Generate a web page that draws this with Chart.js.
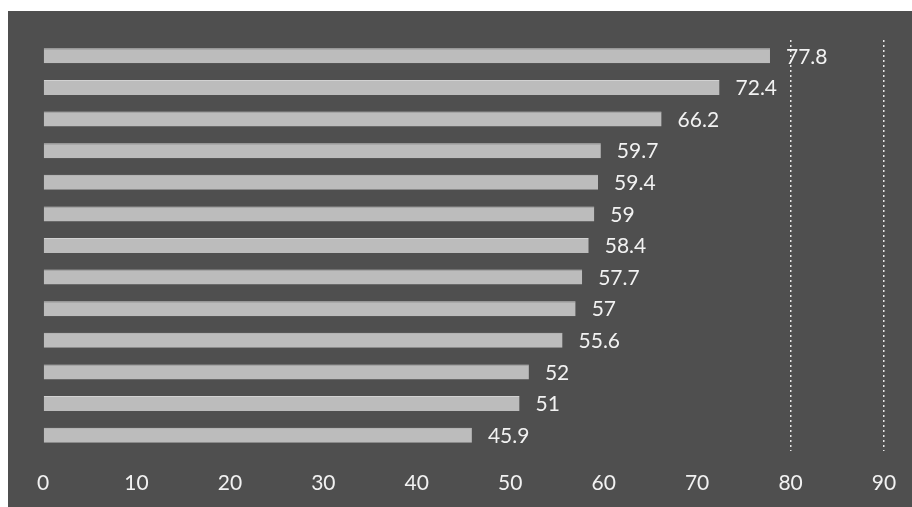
<!DOCTYPE html>
<html lang="en">
<head>
    <meta charset="UTF-8">
    <title>Bar chart</title>
    <script src="https://cdn.jsdelivr.net/npm/chart.js"></script>
    <style>
        body {
            margin: 0;
            background-color: #ffffff;
            overflow: hidden;
        }
        .chart-box {
            position: absolute;
            left: 8px;
            top: 11px;
            width: 904px;
            height: 496px;
            background-color: #4f4f4f;
        }
        canvas {
            display: block;
        }
    </style>
</head>
<body>
    <div class="chart-box">
        <canvas id="barChart" width="904" height="496"></canvas>
    </div>

    <script>
        const categories = ['1', '2', '3', '4', '5', '6', '7', '8', '9', '10', '11', '12', '13'];
        const values = [77.8, 72.4, 66.2, 59.7, 59.4, 59, 58.4, 57.7, 57, 55.6, 52, 51, 45.9];
        const tickValues = [0, 10, 20, 30, 40, 50, 60, 70, 80, 90];
        const gridAt = [80, 90];

        // value labels at the end of each bar
        const valueLabels = {
            id: 'valueLabels',
            afterDatasetsDraw(chart) {
                const ctx = chart.ctx;
                const meta = chart.getDatasetMeta(0);
                ctx.save();
                ctx.font = '21px Lato';
                ctx.fillStyle = '#f2f2f2';
                ctx.textAlign = 'left';
                ctx.textBaseline = 'middle';
                meta.data.forEach((bar, i) => {
                    ctx.fillText(String(values[i]), bar.x + 16, bar.y + 1);
                });
                ctx.restore();
            }
        };

        new Chart(document.getElementById('barChart'), {
            type: 'bar',
            data: {
                labels: categories,
                datasets: [{
                    data: values,
                    backgroundColor: '#bcbcbc',
                    borderColor: '#d2d2d2',
                    borderWidth: { top: 1, bottom: 0, left: 0, right: 0 },
                    barPercentage: 0.475,
                    categoryPercentage: 1
                }]
            },
            options: {
                indexAxis: 'y',
                responsive: false,
                animation: false,
                devicePixelRatio: 1,
                layout: {
                    padding: { left: 35, right: 28, top: 29, bottom: 0 }
                },
                plugins: {
                    legend: { display: false },
                    tooltip: { enabled: false }
                },
                scales: {
                    x: {
                        min: 0,
                        max: 90,
                        afterBuildTicks: axis => {
                            axis.ticks = tickValues.map(v => ({ value: v }));
                        },
                        afterFit: axis => {
                            axis.height = 56;
                            axis.paddingLeft = 0;
                            axis.paddingRight = 0;
                        },
                        grid: {
                            drawTicks: false,
                            lineWidth: 1.5,
                            color: ctx => gridAt.includes(ctx.tick && ctx.tick.value) ? '#e6e6e6' : 'rgba(0,0,0,0)'
                        },
                        border: { display: false, dash: [2, 3] },
                        ticks: {
                            color: '#f2f2f2',
                            font: { family: 'Lato', size: 21 },
                            padding: 20
                        }
                    },
                    y: {
                        display: false
                    }
                }
            },
            plugins: [valueLabels]
        });
    </script>
</body>
</html>
